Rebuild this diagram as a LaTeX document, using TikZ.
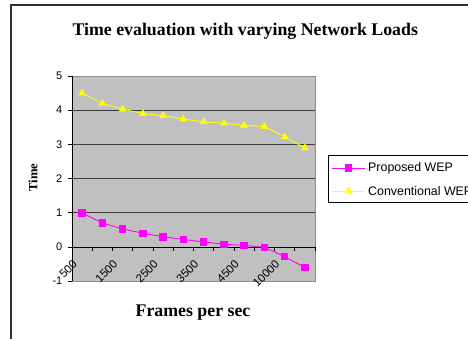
\documentclass[tikz,border=0pt]{standalone}
\usepackage{fontspec}
\setmainfont{Liberation Serif}
\newfontfamily\chartsans{Liberation Sans}
\usetikzlibrary{plotmarks}
\definecolor{plotgray}{HTML}{C0C0C0}
\definecolor{gridgray}{HTML}{3C3C3C}
\definecolor{bordergray}{HTML}{8C8C8C}
\definecolor{framegray}{HTML}{2E2E2E}
\definecolor{wepmagenta}{HTML}{FF00FF}
\definecolor{wepyellow}{HTML}{FFFF00}
\tikzset{
    axisnum/.style={font=\chartsans\fontsize{11}{13}\selectfont, inner sep=0pt},
    xnum/.style={axisnum, font=\chartsans\fontsize{11.5}{13}\selectfont, yshift=-12pt, rotate=45, anchor=north east},
    legendtext/.style={font=\chartsans\fontsize{12.4}{14}\selectfont, inner sep=0pt, anchor=west},
    charttitle/.style={font=\bfseries\fontsize{17.8}{20}\selectfont, inner sep=0pt},
    proposedline/.style={wepmagenta, line width=0.9pt},
    conventionalline/.style={wepyellow, line width=0.9pt}
}

\begin{document}
\begin{tikzpicture}[x=1pt, y=-1pt]

\useasboundingbox (0,0) rectangle (468,338);
\clip (0,0) rectangle (468,338);

% Rahmen
\draw[line width=2pt, framegray] (11,5) rectangle (490,360);

% Titel
\node[charttitle, anchor=base] (title) at (245.3,35) {Time evaluation with varying Network Loads};

% Diagrammflaeche
\begin{scope}[shift={(72,247)}, x=20.25pt, y=34.2pt]

% Hintergrund und Gitter
\fill[plotgray] (0,-1) rectangle (12,5);
\draw[gridgray, line width=0.8pt] (0,1) -- (12,1) (0,2) -- (12,2) (0,3) -- (12,3) (0,4) -- (12,4);
\draw[bordergray, line width=0.8pt] (0,5) -- (12,5) -- (12,-1) -- (0,-1);

% Achsen
\draw[line width=0.8pt] (0,-1) -- (0,5);
\draw[line width=0.8pt] (0,0) -- (12,0);
\foreach \i in {0,...,12}
    \draw[line width=0.7pt] (\i,0) -- ++(0,-4pt);
\foreach \v in {-1,...,5}
    \draw[line width=0.7pt] (0,\v) -- ++(-4pt,0);

% y-Beschriftung
\foreach \v in {-1,...,5}
    \node[axisnum, anchor=east, xshift=-9.5pt] (ylab\v) at (0,\v) {\v};

% x-Beschriftung
\node[xnum] (xlab1) at (0,0) {500};
\node[xnum] (xlab2) at (2,0) {1500};
\node[xnum] (xlab3) at (4,0) {2500};
\node[xnum] (xlab4) at (6,0) {3500};
\node[xnum] (xlab5) at (8,0) {4500};
\node[xnum] (xlab6) at (10,0) {10000};

% Messreihen
\draw[conventionalline] plot[mark=triangle*, mark size=3.6pt, mark options={fill=wepyellow}]
    coordinates {(0.5,4.5) (1.5,4.2) (2.5,4.03) (3.5,3.9) (4.5,3.84) (5.5,3.74)
                 (6.5,3.66) (7.5,3.62) (8.5,3.56) (9.5,3.52) (10.5,3.22) (11.5,2.9)};
\draw[proposedline] plot[mark=square*, mark size=3.3pt, mark options={fill=wepmagenta}]
    coordinates {(0.5,1.0) (1.5,0.7) (2.5,0.53) (3.5,0.4) (4.5,0.3) (5.5,0.22)
                 (6.5,0.15) (7.5,0.08) (8.5,0.05) (9.5,-0.01) (10.5,-0.28) (11.5,-0.6)};

\end{scope}

% Achsentitel
\node[charttitle, anchor=base] (xtitle) at (193,316.5) {Frames per sec};
\node[font=\bfseries\fontsize{12.6}{14}\selectfont, inner sep=0pt, rotate=90] (ytitle) at (33,177.5) {Time};

% Legende
\draw[line width=0.7pt, fill=white] (328,155) rectangle (490,202.5);
\draw[proposedline] (332,168) -- (365,168);
\draw[proposedline] plot[mark=square*, mark size=3.3pt, mark options={fill=wepmagenta}] coordinates {(348.5,168)};
\node[legendtext] (proposed) at (368,168) {Proposed WEP};
\draw[conventionalline] (332,191) -- (365,191);
\draw[conventionalline] plot[mark=triangle*, mark size=3.6pt, mark options={fill=wepyellow}] coordinates {(348.5,191)};
\node[legendtext] (conventional) at (368,191) {Conventional WEP};

\end{tikzpicture}
\end{document}
